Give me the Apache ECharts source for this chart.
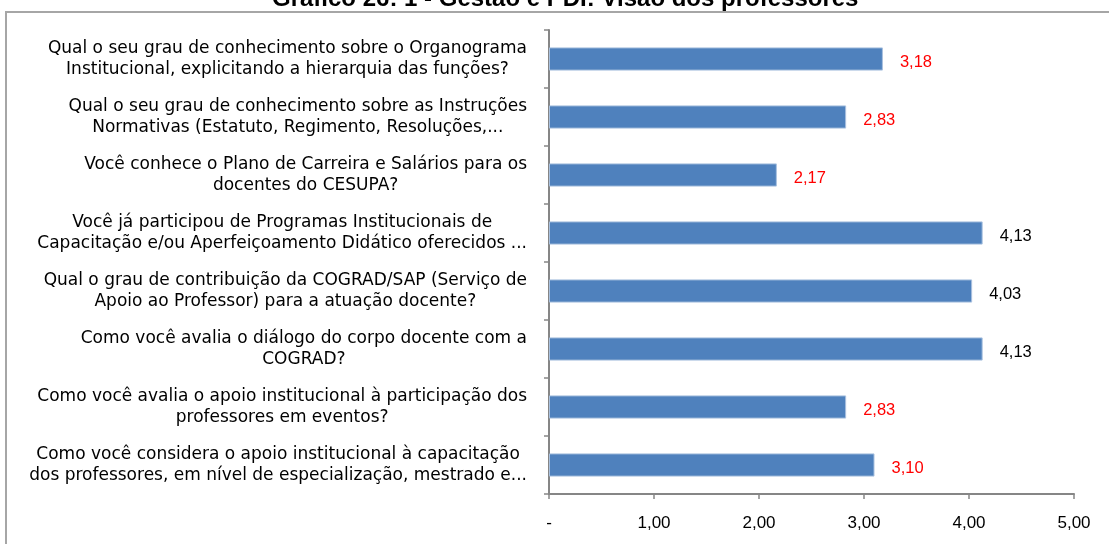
<!DOCTYPE html>
<html>
<head>
<meta charset="utf-8">
<script src="https://cdn.jsdelivr.net/npm/echarts@6/dist/echarts.min.js"></script>
<style>
  html, body { margin: 0; padding: 0; background: #fff; }
  #chart { width: 1109px; height: 544px; }
</style>
</head>
<body>
<div id="chart"></div>
<script>
const chartTitle = 'Gráfico 26: 1 - Gestão e PDI: Visão dos professores';

const questions = [
  'Qual o seu grau de conhecimento sobre o Organograma\nInstitucional, explicitando a hierarquia das funções?',
  'Qual o seu grau de conhecimento sobre as Instruções\nNormativas (Estatuto, Regimento, Resoluções,...',
  'Você conhece o Plano de Carreira e Salários para os\ndocentes do CESUPA?',
  'Você já participou de Programas Institucionais de\nCapacitação e/ou Aperfeiçoamento Didático oferecidos ...',
  'Qual o grau de contribuição da COGRAD/SAP (Serviço de\nApoio ao Professor) para a atuação docente?',
  'Como você avalia o diálogo do corpo docente com a\nCOGRAD?',
  'Como você avalia o apoio institucional à participação dos\nprofessores em eventos?',
  'Como você considera o apoio institucional à capacitação\ndos professores, em nível de especialização, mestrado e...'
];

const scores = [3.18, 2.83, 2.17, 4.13, 4.03, 4.13, 2.83, 3.10];

const xTicks = [0, 1, 2, 3, 4, 5];

var chartDom = document.getElementById('chart');
var myChart = echarts.init(chartDom);

function fmt(v) {
  return v === 0 ? '-' : v.toFixed(2).replace('.', ',');
}

var labelFont = 'DejaVu Sans';
var numFont = 'Liberation Sans';

var option = {
  animation: false,
  title: {
    text: chartTitle,
    left: 272,
    top: -13,
    padding: 0,
    textStyle: {
      fontFamily: 'Liberation Sans',
      fontWeight: 'bold',
      fontSize: 24,
      color: '#000'
    }
  },
  graphic: [
    {
      type: 'rect',
      shape: { x: 6, y: 12, width: 1200, height: 600 },
      style: { fill: 'none', stroke: '#a6a6a6', lineWidth: 2 },
      z: -1
    }
  ],
  grid: {
    left: 549,
    right: 35,
    top: 30,
    bottom: 50
  },
  xAxis: {
    type: 'value',
    min: xTicks[0],
    max: xTicks[xTicks.length - 1],
    interval: 1,
    splitLine: { show: false },
    axisLine: { show: true, lineStyle: { color: '#868686', width: 2 } },
    axisTick: { show: true, length: 5, lineStyle: { color: '#868686', width: 1.5 } },
    axisLabel: {
      margin: 21,
      formatter: fmt,
      fontFamily: numFont,
      fontSize: 17,
      color: '#000'
    }
  },
  yAxis: {
    type: 'category',
    inverse: true,
    data: questions,
    axisLine: { show: true, lineStyle: { color: '#868686', width: 2 } },
    axisTick: { show: true, length: 5, lineStyle: { color: '#868686', width: 1.5 } },
    axisLabel: {
      margin: 22,
      align: 'right',
      formatter: function (v) {
        return v.split('\n').map(function (l) { return '{c|' + l + '}'; }).join('\n');
      },
      rich: {
        c: {
          align: 'center',
          fontFamily: labelFont,
          fontSize: 17,
          lineHeight: 21,
          color: '#000'
        }
      }
    }
  },
  series: [
    {
      type: 'bar',
      data: scores,
      barWidth: '40%',
      itemStyle: {
        color: '#4f81bd',
        borderColor: '#a9c1df',
        borderWidth: 1
      },
      label: {
        show: true,
        position: 'right',
        distance: 17,
        offset: [0, 3],
        formatter: function (p) {
          return (p.value < 4 ? '{r|' : '{k|') + fmt(p.value) + '}';
        },
        rich: {
          r: { color: '#ff0000', fontFamily: numFont, fontSize: 16.5 },
          k: { color: '#000', fontFamily: numFont, fontSize: 16.5 }
        }
      }
    }
  ]
};

option && myChart.setOption(option);
</script>
</body>
</html>
